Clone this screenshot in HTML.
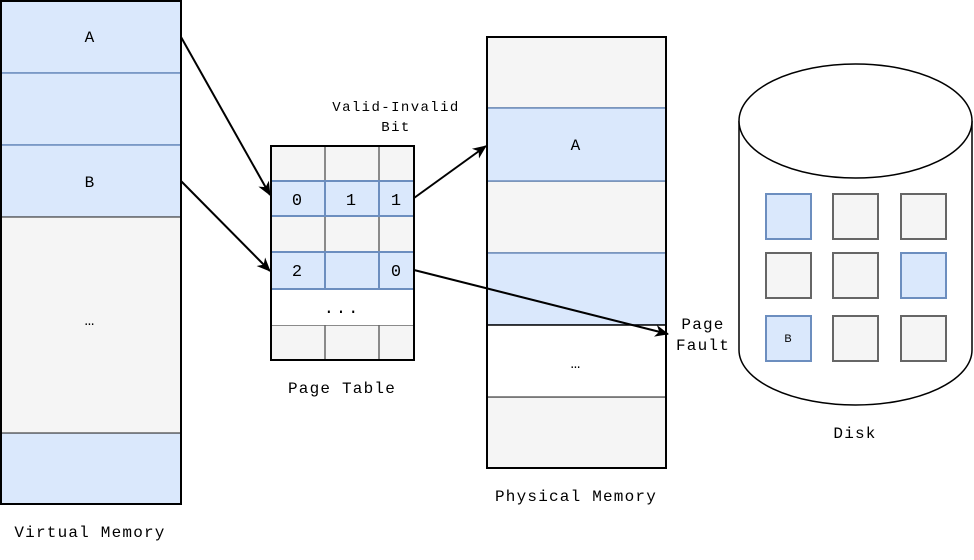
<!DOCTYPE html>
<html><head><meta charset="utf-8"><style>html,body{margin:0;padding:0;background:#fff}svg{display:block}</style></head><body>
<svg width="974" height="560" xmlns="http://www.w3.org/2000/svg" font-family="Liberation Mono, DejaVu Sans Mono, monospace" font-size="16" letter-spacing="1.2">
<defs><marker id="ar" markerWidth="14" markerHeight="14" refX="13" refY="7" orient="auto" markerUnits="userSpaceOnUse"><path d="M0,1 L14,7 L0,13 L4,7 z" fill="#000"/></marker></defs>
<!-- Virtual memory -->
<g stroke="#6c8ebf" stroke-width="1.5">
<rect x="1" y="1" width="180" height="72" fill="#dae8fc"/>
<rect x="1" y="73" width="180" height="72" fill="#dae8fc"/>
<rect x="1" y="145" width="180" height="72" fill="#dae8fc"/>
<rect x="1" y="433" width="180" height="71" fill="#dae8fc"/>
</g>
<rect x="1" y="217" width="180" height="216" fill="#f5f5f5" stroke="#666" stroke-width="1.5"/>
<rect x="1" y="1" width="180" height="503" fill="none" stroke="#000" stroke-width="2"/>
<text x="90" y="42" text-anchor="middle">A</text>
<text x="90" y="187" text-anchor="middle">B</text>
<text x="90" y="325" text-anchor="middle">…</text>
<text x="90" y="537" text-anchor="middle">Virtual Memory</text>
<!-- Page table -->
<g stroke="#666" stroke-width="1.5" fill="#f5f5f5">
<rect x="271" y="146" width="143" height="35"/>
<rect x="271" y="216" width="143" height="36"/>
<rect x="271" y="325" width="143" height="35"/>
<line x1="325" y1="146" x2="325" y2="181"/><line x1="379" y1="146" x2="379" y2="181"/>
<line x1="325" y1="216" x2="325" y2="252"/><line x1="379" y1="216" x2="379" y2="252"/>
<line x1="325" y1="325" x2="325" y2="360"/><line x1="379" y1="325" x2="379" y2="360"/>
</g>
<rect x="271" y="289" width="143" height="36" fill="#fff"/>
<g stroke="#6c8ebf" stroke-width="2" fill="#dae8fc">
<rect x="271" y="181" width="54" height="35"/><rect x="325" y="181" width="54" height="35"/><rect x="379" y="181" width="35" height="35"/>
<rect x="271" y="252" width="54" height="37"/><rect x="325" y="252" width="54" height="37"/><rect x="379" y="252" width="35" height="37"/>
</g>
<rect x="271" y="146" width="143" height="214" fill="none" stroke="#000" stroke-width="2"/>
<g font-size="17" letter-spacing="0">
<text x="297" y="205" text-anchor="middle">0</text>
<text x="351" y="205" text-anchor="middle">1</text>
<text x="396" y="205" text-anchor="middle">1</text>
<text x="297" y="276" text-anchor="middle">2</text>
<text x="396" y="276" text-anchor="middle">0</text>
<text x="342" y="313" text-anchor="middle" letter-spacing="2">...</text>
</g>
<text x="396" y="111" text-anchor="middle" font-size="14" letter-spacing="1.4">Valid-Invalid</text>
<text x="396" y="131" text-anchor="middle" font-size="14" letter-spacing="1.4">Bit</text>
<text x="342" y="393" text-anchor="middle">Page Table</text>
<!-- Physical memory -->
<g stroke="#666" stroke-width="1.5" fill="#f5f5f5">
<rect x="487" y="37" width="179" height="71"/>
<rect x="487" y="181" width="179" height="72"/>
<rect x="487" y="397" width="179" height="71"/>
</g>
<g stroke="#6c8ebf" stroke-width="1.5" fill="#dae8fc">
<rect x="487" y="108" width="179" height="73"/>
<rect x="487" y="253" width="179" height="72"/>
</g>
<rect x="487" y="325" width="179" height="72" fill="#fff"/>
<line x1="487" y1="325" x2="666" y2="325" stroke="#000" stroke-width="1.5"/>
<line x1="487" y1="397" x2="666" y2="397" stroke="#666" stroke-width="1.5"/>
<rect x="487" y="37" width="179" height="431" fill="none" stroke="#000" stroke-width="2"/>
<text x="576" y="150" text-anchor="middle">A</text>
<text x="576" y="368" text-anchor="middle">…</text>
<text x="576" y="501" text-anchor="middle">Physical Memory</text>
<text x="703" y="329" text-anchor="middle">Page</text>
<text x="703" y="350" text-anchor="middle">Fault</text>
<!-- Disk -->
<path d="M739,121 L739,350 A116.5,55 0 0 0 972,350 L972,121" fill="#fff" stroke="#000" stroke-width="1.5"/>
<ellipse cx="855.5" cy="121" rx="116.5" ry="57" fill="#fff" stroke="#000" stroke-width="1.5"/>
<g stroke-width="2">
<rect x="766" y="194" width="45" height="45" fill="#dae8fc" stroke="#6c8ebf"/>
<rect x="833" y="194" width="45" height="45" fill="#f5f5f5" stroke="#666"/>
<rect x="901" y="194" width="45" height="45" fill="#f5f5f5" stroke="#666"/>
<rect x="766" y="253" width="45" height="45" fill="#f5f5f5" stroke="#666"/>
<rect x="833" y="253" width="45" height="45" fill="#f5f5f5" stroke="#666"/>
<rect x="901" y="253" width="45" height="45" fill="#dae8fc" stroke="#6c8ebf"/>
<rect x="766" y="316" width="45" height="45" fill="#dae8fc" stroke="#6c8ebf"/>
<rect x="833" y="316" width="45" height="45" fill="#f5f5f5" stroke="#666"/>
<rect x="901" y="316" width="45" height="45" fill="#f5f5f5" stroke="#666"/>
</g>
<text x="788" y="342" text-anchor="middle" font-size="11" letter-spacing="0" font-family="Liberation Sans, sans-serif">B</text>
<text x="855" y="438" text-anchor="middle">Disk</text>
<!-- arrows -->
<g stroke="#000" stroke-width="2" fill="none">
<line x1="181" y1="37" x2="270" y2="195" marker-end="url(#ar)"/>
<line x1="181" y1="181" x2="270" y2="271" marker-end="url(#ar)"/>
<line x1="414" y1="198" x2="486" y2="146" marker-end="url(#ar)"/>
<line x1="414" y1="270" x2="668" y2="334" marker-end="url(#ar)"/>
</g>
</svg>
</body></html>
